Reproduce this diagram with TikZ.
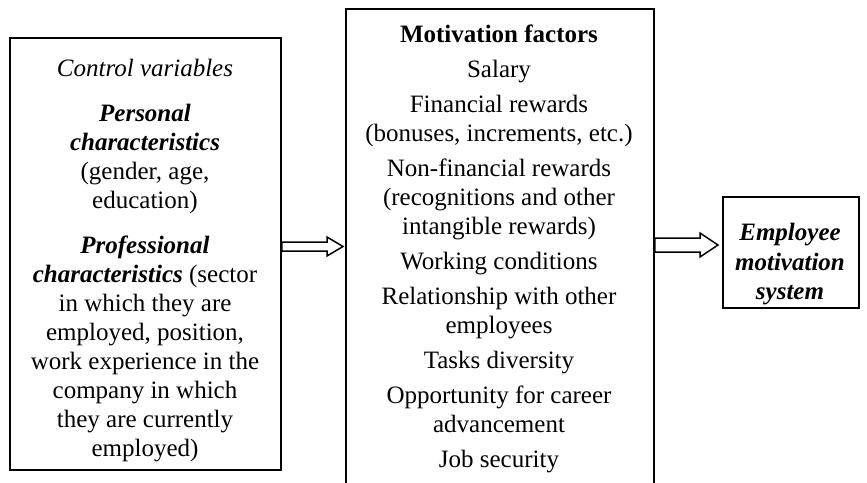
\documentclass[tikz,border=0pt]{standalone}
\usepackage{fontspec}
\setmainfont{Liberation Serif}
\begin{document}
\begin{tikzpicture}[x=1pt,y=-1pt,
  box/.style={draw, line width=1.8pt, inner sep=0pt},
  txt/.style={align=center, inner sep=0pt, font=\fontsize{25}{29}\selectfont},
  flow/.style={draw, line width=1.5pt, fill=white, line join=miter}]
\useasboundingbox (0,0) rectangle (867,482);
\clip (0,0) rectangle (867,482);

% the three blocks
\node[box, minimum width=271pt, minimum height=432pt, anchor=north west] (ctrl) at (9,37) {};
\node[box, minimum width=308pt, minimum height=520pt, anchor=north west] (factors) at (345,8) {};
\node[box, minimum width=136pt, minimum height=111pt, anchor=north west] (system) at (722,196) {};

% block contents
\node[txt, anchor=north] (ctrltext) at (145,59) {%
  \textit{Control variables}\\[16pt]
  \textbf{\textit{Personal}}\\
  \textbf{\textit{characteristics}}\\
  (gender, age,\\
  education)\\[16pt]
  \textbf{\textit{Professional}}\\
  \textbf{\textit{characteristics}} (sector\\
  in which they are\\
  employed, position,\\
  work experience in the\\
  company in which\\
  they are currently\\
  employed)};

\node[txt, anchor=north] (factortext) at (499,25) {%
  \textbf{Motivation factors}\\[6pt]
  Salary\\[6pt]
  Financial rewards\\
  (bonuses, increments, etc.)\\[6pt]
  Non-financial rewards\\
  (recognitions and other\\
  intangible rewards)\\[6pt]
  Working conditions\\[6pt]
  Relationship with other\\
  employees\\[6pt]
  Tasks diversity\\[6pt]
  Opportunity for career\\
  advancement\\[6pt]
  Job security};

\node[txt, anchor=north, font=\fontsize{25}{29.5}\selectfont\bfseries\itshape] (systemtext) at (790,223) {%
  Employee\\ motivation\\ system};

% hollow block arrows between the blocks
\draw[flow] (ctrl.east |- 0,242) -- (327,242) -- (327,237)
  -- ([xshift=-2pt]factors.west |- 0,246.5)
  -- (327,256) -- (327,251) -- (ctrl.east |- 0,251) -- cycle;
\draw[flow] (factors.east |- 0,238) -- (700,238) -- (700,233)
  -- ([xshift=-4pt]system.west |- 0,245)
  -- (700,257) -- (700,252) -- (factors.east |- 0,252) -- cycle;
\end{tikzpicture}
\end{document}
